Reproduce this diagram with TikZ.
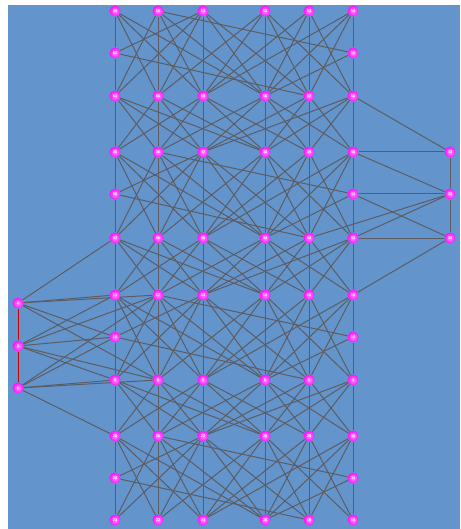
\documentclass[tikz,border=0pt]{standalone}
\usepackage{tikz}
\usetikzlibrary{backgrounds}
\definecolor{panel}{RGB}{99,148,204}
\definecolor{wire}{RGB}{92,92,98}
\providecommand{\gridrow}[3]{%
  \foreach \lab [count=\c] in {#3}{%
    \pgfmathsetmacro\xx{{115,158,203,265,309,353}[\c-1]}%
    \node[vtx] (g#1-\c) at (\xx,#2) {\lab};}}

\begin{document}
\begin{tikzpicture}[x=1pt,y=-1pt,
  vtx/.style={circle,inner sep=0pt,minimum size=11pt,shading=radial,inner color=magenta!45!white,outer color=magenta!95!white,text=white,font=\fontsize{4}{4}\selectfont\bfseries\sffamily},
  link/.style={draw=wire,line width=1pt},
  redlink/.style={draw=red!80!black,line width=1pt}]
\useasboundingbox (0,0) rectangle (460,529);
% full rows
\gridrow{1}{11}{49,50,51,52,53,54}
\gridrow{3}{96}{61,60,59,58,57,56}
\gridrow{4}{152}{35,36,37,38,39,40}
\gridrow{6}{238}{47,46,45,44,43,42}
\gridrow{7}{295}{11,12,13,14,15,16}
\gridrow{9}{380}{9,8,7,6,5,4}
\gridrow{10}{436}{25,26,27,28,29,30}
\gridrow{12}{520}{23,22,21,20,19,18}
% middle rows
\node[vtx] (g2-1) at (115,53) {62};  \node[vtx] (g2-6) at (353,53) {55};
\node[vtx] (g5-1) at (115,194) {48}; \node[vtx] (g5-6) at (353,194) {41};
\node[vtx] (g8-1) at (115,337) {10}; \node[vtx] (g8-6) at (353,337) {17};
\node[vtx] (g11-1) at (115,478) {24};\node[vtx] (g11-6) at (353,478) {31};
% side columns
\node[vtx] (r1) at (450,152) {32};
\node[vtx] (r2) at (450,194) {33};
\node[vtx] (r3) at (450,238) {34};
\node[vtx] (l1) at (18,303) {3};
\node[vtx] (l2) at (18,346) {2};
\node[vtx] (l3) at (18,388) {1};

\begin{scope}[on background layer]
\fill[panel] (8,5) rectangle (460,529);
% row to row
\foreach \ra/\rb/\w in {1/3/1,4/6/1,7/9/1,10/12/1,3/4/0,6/7/0,9/10/0}
  \foreach \i in {1,...,6}
    \foreach \j in {1,...,6}{
      \pgfmathtruncatemacro\dd{abs(\i-\j)}
      \pgfmathtruncatemacro\omitv{(\w==1)&&(\dd==0)&&((\i==1)||(\i==6))}
      \ifnum\dd<3 \ifnum\omitv=0 \draw[link] (g\ra-\i) -- (g\rb-\j);\fi\fi
    }
% a few long ones
\foreach \ra/\rb in {1/3,4/6,7/9,10/12,3/4,6/7,9/10}{
  \draw[link] (g\ra-1) -- (g\rb-4); \draw[link] (g\ra-6) -- (g\rb-3);
}
% along the rows
\foreach \rr in {1,3,4,6,7,9,10,12}
  \foreach \c [evaluate=\c as \n using int(\c+1)] in {1,...,5}
    \draw[link] (g\rr-\c) -- (g\rr-\n);
% middle nodes
\foreach \tp/\md/\bt in {1/2/3,4/5/6,7/8/9,10/11/12}{
  \draw[link] (g\tp-1) -- (g\md-1) -- (g\bt-1);
  \draw[link] (g\tp-6) -- (g\md-6) -- (g\bt-6);
  \draw[link] (g\md-1) -- (g\tp-3); \draw[link] (g\md-1) -- (g\bt-5);
  \draw[link] (g\md-6) -- (g\tp-2); \draw[link] (g\md-6) -- (g\bt-4);
}
% right column
\draw[link] (r1) -- (r2) -- (r3);
\foreach \m in {g3-6,g4-6} \draw[link] (r1) -- (\m);
\foreach \m in {g4-6,g5-6,g6-6,g6-5} \draw[link] (r2) -- (\m);
\foreach \m in {g5-6,g6-6,g7-6} \draw[link] (r3) -- (\m);
% left column
\draw[redlink] (l1) -- (l2) -- (l3);
\foreach \m in {g6-1,g7-1,g7-2,g8-1,g9-2} \draw[link] (l1) -- (\m);
\foreach \m in {g7-1,g7-2,g8-1,g9-1,g9-2} \draw[link] (l2) -- (\m);
\foreach \m in {g7-2,g8-1,g9-1,g9-2,g10-1} \draw[link] (l3) -- (\m);
\end{scope}
\end{tikzpicture}
\end{document}
